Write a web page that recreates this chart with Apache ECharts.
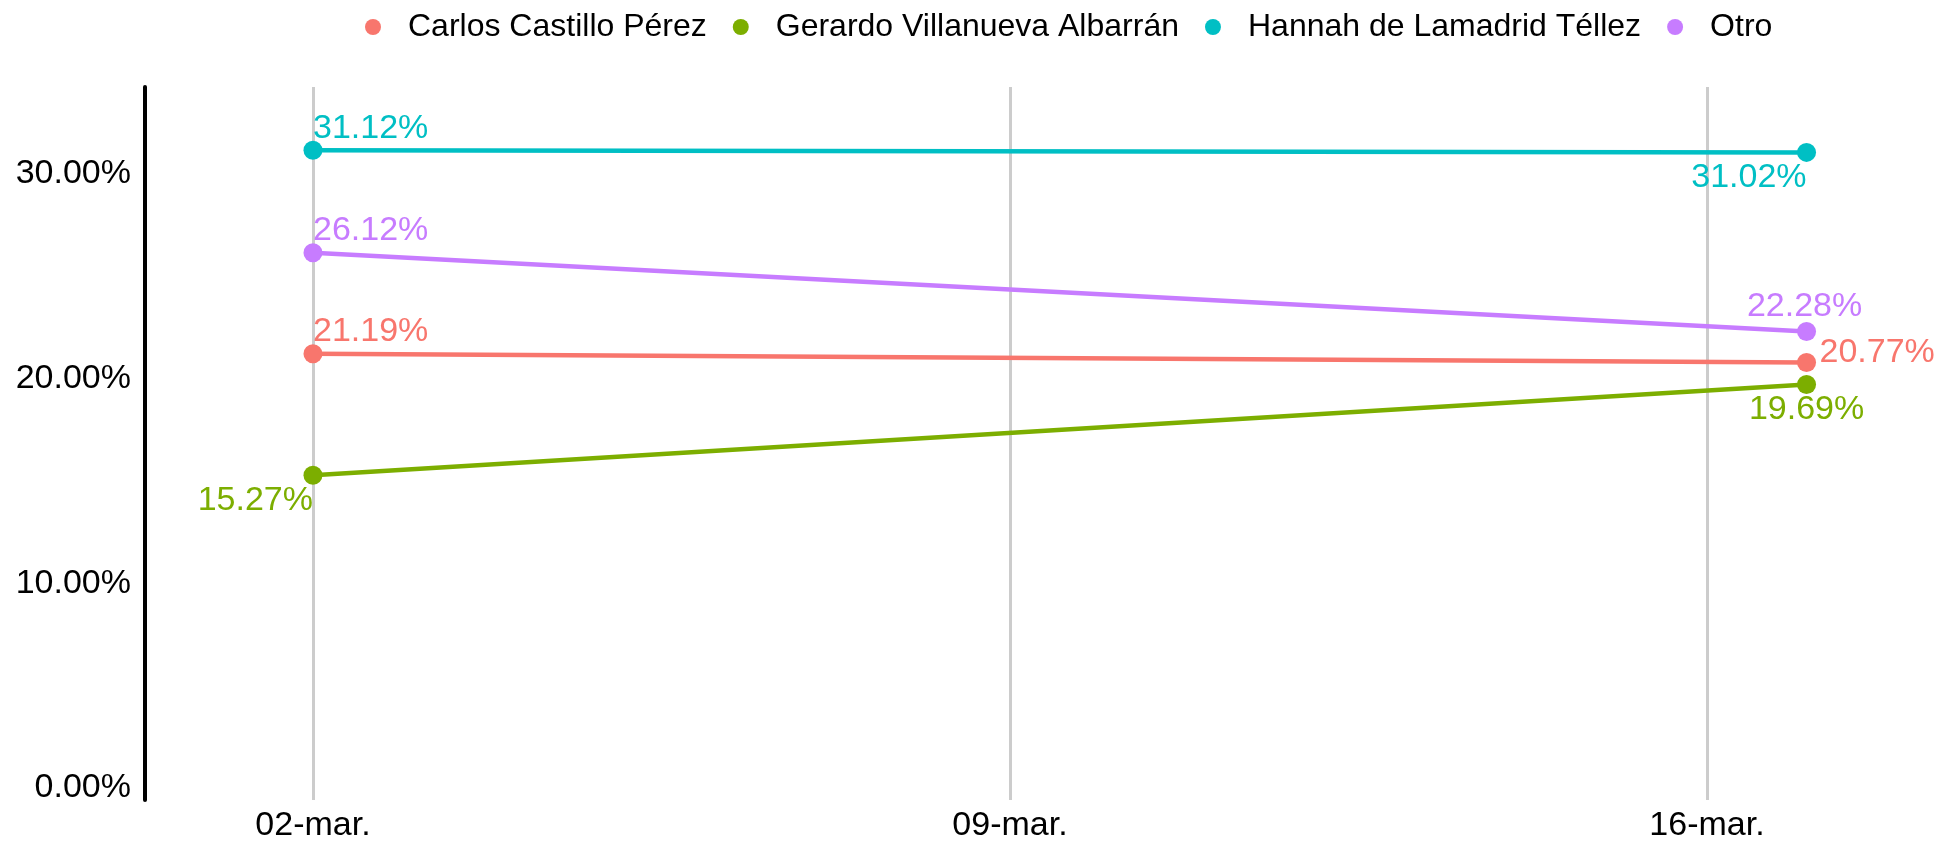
<!DOCTYPE html>
<html>
<head>
<meta charset="utf-8">
<script src="https://cdn.jsdelivr.net/npm/echarts@6/dist/echarts.min.js"></script>
<style>
html,body{margin:0;padding:0;background:#fff;}
#chart{width:1941px;height:843px;}
</style>
</head>
<body>
<div id="chart"></div>
<script>
// ---- data ----
const pointDays = [2, 17];               // day of March for each poll
const xTickDays = [2, 9, 16];
const xTickLabels = ['02-mar.', '09-mar.', '16-mar.'];
const yTicks = [0, 10, 20, 30];
const seriesNames = ['Carlos Castillo Pérez', 'Gerardo Villanueva Albarrán', 'Hannah de Lamadrid Téllez', 'Otro'];
const carlos = [21.19, 20.77];
const gerardo = [15.27, 19.69];
const hannah = [31.12, 31.02];
const otro = [26.12, 22.28];

// ---- styling ----
const colors = ['#F8766D', '#7CAE00', '#00BFC4', '#C77CFF'];
const FONT = 'Liberation Sans, Arial, sans-serif';
const labelPlacement = [
  [{align: 'left', offset: [0, -22]}, {align: 'left', offset: [13, -10]}],
  [{align: 'right', offset: [0, 25]}, {align: 'center', offset: [0, 25]}],
  [{align: 'left', offset: [0, -22]}, {align: 'right', offset: [0, 25]}],
  [{align: 'left', offset: [0, -22]}, {align: 'center', offset: [-2, -25]}]
];
const allValues = [carlos, gerardo, hannah, otro];

const series = seriesNames.map((name, i) => ({
  name: name,
  type: 'line',
  z: 3,
  symbol: 'circle',
  symbolSize: 19,
  color: colors[i],
  lineStyle: {width: 4.5, color: colors[i]},
  itemStyle: {color: colors[i]},
  data: allValues[i].map((v, j) => ({
    value: [pointDays[j], v],
    label: {
      show: true,
      position: 'inside',
      align: labelPlacement[i][j].align,
      verticalAlign: 'middle',
      offset: labelPlacement[i][j].offset,
      formatter: v.toFixed(2) + '%',
      color: colors[i],
      fontSize: 34,
      fontFamily: FONT
    }
  }))
}));

series.unshift({
  name: 'grid',
  type: 'line',
  z: 1,
  data: [],
  markLine: {
    silent: true,
    z: 1,
    symbol: ['none', 'none'],
    label: {show: false},
    lineStyle: {color: '#cccccc', width: 3, type: 'solid'},
    data: xTickDays.map(d => ({xAxis: d}))
  }
});

const chart = echarts.init(document.getElementById('chart'));
chart.setOption({
  animation: false,
  backgroundColor: '#ffffff',
  legend: {
    data: seriesNames,
    left: 365,
    top: 11,
    padding: 0,
    icon: 'circle',
    itemWidth: 16,
    itemHeight: 16,
    itemGap: 26,
    textStyle: {fontSize: 32, color: '#000', fontFamily: FONT, padding: [0, 0, 0, 22]}
  },
  grid: {left: 145, right: 10, top: 87, bottom: 41, containLabel: false},
  xAxis: {
    type: 'value',
    min: 0.313,
    max: 18.25,
    axisLine: {show: false},
    axisTick: {show: false},
    splitLine: {show: false},
    axisLabel: {
      customValues: xTickDays,
      formatter: v => xTickLabels[xTickDays.indexOf(v)] || '',
      fontSize: 34,
      color: '#000',
      fontFamily: FONT,
      margin: 9
    }
  },
  yAxis: {
    type: 'value',
    min: -0.58,
    max: 34.21,
    axisLine: {show: true, onZero: false, lineStyle: {color: '#000', width: 4}},
    axisTick: {show: false},
    splitLine: {show: false},
    axisLabel: {
      customValues: yTicks,
      formatter: v => v.toFixed(2) + '%',
      fontSize: 34,
      color: '#000',
      fontFamily: FONT,
      margin: 14
    }
  },
  series: series
});
</script>
</body>
</html>
